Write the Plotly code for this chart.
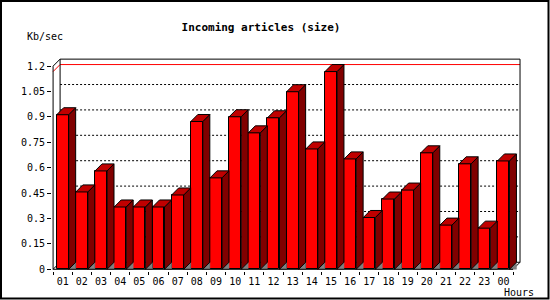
import plotly.graph_objects as go

# ---- data ----
hours = ["01", "02", "03", "04", "05", "06", "07", "08", "09", "10", "11", "12",
         "13", "14", "15", "16", "17", "18", "19", "20", "21", "22", "23", "00"]
kb_per_sec = [0.913, 0.457, 0.581, 0.368, 0.368, 0.368, 0.439, 0.873, 0.540, 0.901, 0.806, 0.895,
              1.049, 0.711, 1.168, 0.652, 0.306, 0.415, 0.468, 0.688, 0.261, 0.623, 0.243, 0.640]
y_tick_vals = [0, 0.15, 0.3, 0.45, 0.6, 0.75, 0.9, 1.05, 1.2]
y_tick_text = ["0", "0.15", "0.3", "0.45", "0.6", "0.75", "0.9", "1.05", "1.2"]
title_text = "Incoming articles (size)"
y_label = "Kb/sec"
x_label = "Hours"

# ---- geometry / style ----
W, H = 550, 300
ML, MR, MT, MB = 52, 18, 56, 29
PW, PH = W - ML - MR, H - MT - MB
XR = [-0.557, 24.49]
YR = [-0.01, 1.26]
BW = 0.626          # bar front width (category units)
DX = 0.365          # depth offset in x units
DY = 0.0415         # depth offset in y units
YMAX = y_tick_vals[-1]
FONT = "DejaVu Sans Mono"

RED, DARK, TOPC, GRAY = "#ff0000", "#800000", "#c00000", "#808080"

n = len(hours)
xs = list(range(n))

side_x, side_y, top_x, top_y, fl_x, fl_y = [], [], [], [], [], []
for i, v in zip(xs, kb_per_sec):
    xl, xr = i - BW / 2, i + BW / 2
    side_x += [xr, xr + DX, xr + DX, xr, xr, None]
    side_y += [0, DY, v + DY, v, 0, None]
    top_x += [xl, xl + DX, xr + DX, xr, xl, None]
    top_y += [v, v + DY, v + DY, v, v, None]
    fl_x += [xr, xr + DX, xr + DX, xr, None]
    fl_y += [0, DY, 0, 0, None]

fig = go.Figure()
fig.add_trace(go.Scatter(x=fl_x, y=fl_y, fill="toself", fillcolor=GRAY, mode="lines",
                         line=dict(color=GRAY, width=0.5), hoverinfo="skip", showlegend=False))
fig.add_trace(go.Bar(x=xs, y=kb_per_sec, width=BW, marker=dict(color=RED, line=dict(color="black", width=1)),
                     showlegend=False))
fig.add_trace(go.Scatter(x=side_x, y=side_y, fill="toself", fillcolor=DARK, mode="lines",
                         line=dict(color="black", width=1), hoverinfo="skip", showlegend=False))
fig.add_trace(go.Scatter(x=top_x, y=top_y, fill="toself", fillcolor=TOPC, mode="lines",
                         line=dict(color="black", width=1), hoverinfo="skip", showlegend=False))

x0f, x1f = -0.5, n - 0.5
shapes = []
# back wall dotted gridlines
for t in y_tick_vals[1:-1]:
    shapes.append(dict(type="line", xref="x", yref="y", x0=x0f + DX, x1=x1f + DX, y0=t + DY, y1=t + DY,
                       line=dict(color="black", width=1, dash="2px,2px"), layer="below"))
# max value line (red)
vmax = max(kb_per_sec)
shapes.append(dict(type="line", xref="x", yref="y", x0=x0f + DX, x1=x1f + DX, y0=vmax + DY, y1=vmax + DY,
                   line=dict(color=RED, width=1), layer="below"))
shapes.append(dict(type="line", xref="x", yref="y", x0=x0f, x1=x0f + DX, y0=vmax, y1=vmax + DY,
                   line=dict(color=RED, width=1), layer="below"))
# back wall box
shapes.append(dict(type="rect", xref="x", yref="y", x0=x0f + DX, x1=x1f + DX, y0=DY, y1=YMAX + DY,
                   line=dict(color="black", width=1), layer="below"))
# left wall / floor edges
for (xa, ya, xb, yb) in [(x0f, YMAX, x0f + DX, YMAX + DY), (x0f, 0, x0f + DX, DY), (x1f, 0, x1f + DX, DY)]:
    shapes.append(dict(type="line", xref="x", yref="y", x0=xa, x1=xb, y0=ya, y1=yb,
                       line=dict(color="black", width=1), layer="below"))
# front axes
shapes.append(dict(type="line", xref="x", yref="y", x0=x0f, x1=x0f, y0=0, y1=YMAX,
                   line=dict(color="black", width=1)))
shapes.append(dict(type="line", xref="x", yref="y", x0=x0f, x1=x1f, y0=0, y1=0,
                   line=dict(color="black", width=1)))


def px2paper(px, py):
    return (px - ML) / PW, (H - MB - py) / PH


# outer border
bx0, by0 = px2paper(1, 1)
bx1, by1 = px2paper(548.5, 298.5)
shapes.append(dict(type="rect", xref="paper", yref="paper", x0=bx0, x1=bx1, y0=by1, y1=by0,
                   line=dict(color="black", width=2)))

annotations = []
ax, ay = px2paper(45, 37)
annotations.append(dict(text=y_label, xref="paper", yref="paper", x=ax, y=ay, showarrow=False,
                        xanchor="center", yanchor="middle", font=dict(family=FONT, size=10, color="black")))
ax, ay = px2paper(519, 292.5)
annotations.append(dict(text=x_label, xref="paper", yref="paper", x=ax, y=ay, showarrow=False,
                        xanchor="center", yanchor="middle", font=dict(family=FONT, size=10, color="black")))

fig.update_layout(
    width=W, height=H, margin=dict(l=ML, r=MR, t=MT, b=MB, autoexpand=False),
    paper_bgcolor="white", plot_bgcolor="white",
    title=dict(text="<b>" + title_text + "</b>", x=261 / W, y=1 - 27 / H, xanchor="center", yanchor="middle",
               font=dict(family=FONT, size=11, color="black")),
    shapes=shapes, annotations=annotations,
    bargap=0,
    xaxis=dict(range=XR, showgrid=False, zeroline=False, showline=False, automargin=False,
               tickmode="array", tickvals=xs, ticktext=hours,
               ticks="outside", ticklen=1, tickcolor="rgba(0,0,0,0)",
               tickfont=dict(family=FONT, size=10, color="black"),
               minor=dict(tickmode="array", tickvals=[i - 0.5 for i in range(n + 1)],
                          ticks="outside", ticklen=3, tickcolor="black", showgrid=False)),
    yaxis=dict(range=YR, showgrid=False, zeroline=False, showline=False, automargin=False,
               tickmode="array", tickvals=y_tick_vals, ticktext=y_tick_text,
               ticks="outside", ticklen=4, tickcolor="black",
               tickfont=dict(family=FONT, size=10, color="black")),
)

fig.write_html("out.html")
